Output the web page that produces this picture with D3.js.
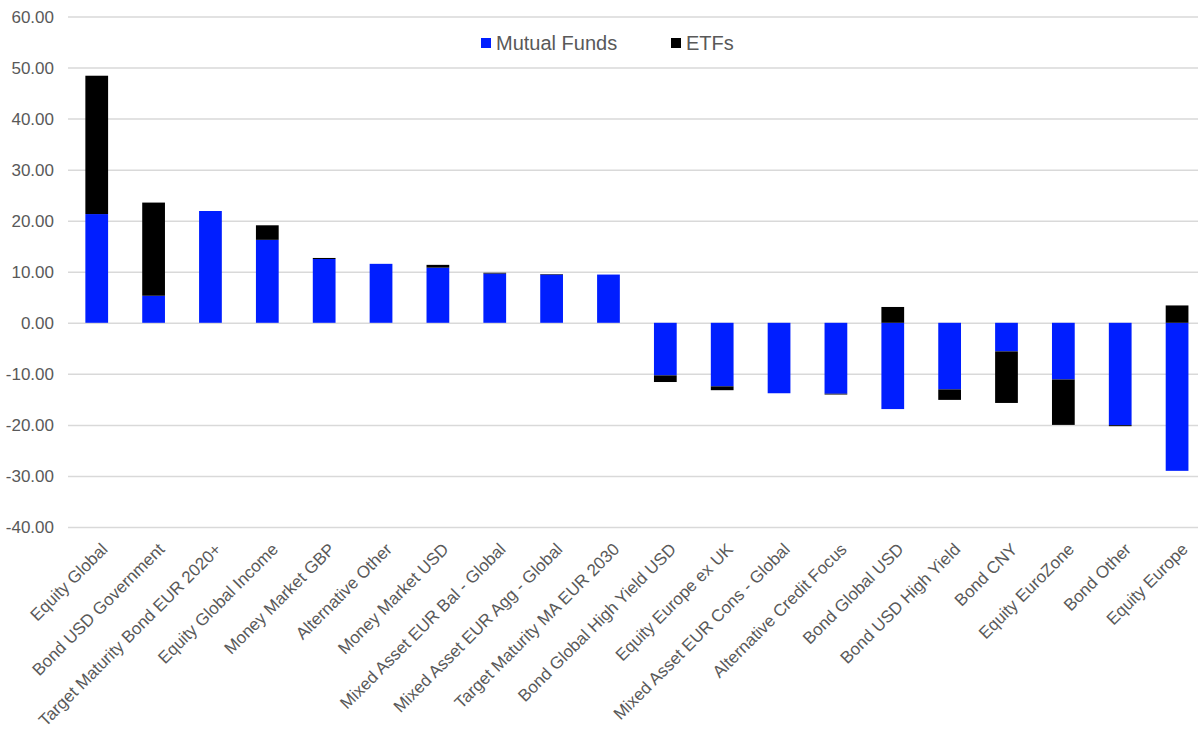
<!DOCTYPE html>
<html>
<head>
<meta charset="utf-8">
<script src="https://cdn.jsdelivr.net/npm/d3@7/dist/d3.min.js"></script>
<style>
  html, body { margin: 0; padding: 0; background: #fff; }
  svg { display: block; font-family: "Liberation Sans", Arial, sans-serif; }
</style>
</head>
<body>
<svg id="chart" width="1198" height="743"></svg>
<script>
const categories = [
  "Equity Global", "Bond USD Government", "Target Maturity Bond EUR 2020+",
  "Equity Global Income", "Money Market GBP", "Alternative Other",
  "Money Market USD", "Mixed Asset EUR Bal - Global", "Mixed Asset EUR Agg - Global",
  "Target Maturity MA EUR 2030", "Bond Global High Yield USD", "Equity Europe ex UK",
  "Mixed Asset EUR Cons - Global", "Alternative Credit Focus", "Bond Global USD",
  "Bond USD High Yield", "Bond CNY", "Equity EuroZone", "Bond Other", "Equity Europe"
];
const mutualFunds = [21.3, 5.3, 21.9, 16.25, 12.5, 11.55, 10.8, 9.65, 9.45, 9.45,
  -10.3, -12.45, -13.8, -13.9, -16.9, -13.05, -5.6, -11.1, -20.05, -29.0];
const etfs = [27.1, 18.25, 0, 2.85, 0.2, 0, 0.55, 0.15, 0.1, 0,
  -1.3, -0.75, 0, -0.15, 3.1, -2.05, -10.1, -8.9, -0.2, 3.4];
const seriesNames = ["Mutual Funds", "ETFs"];
const seriesColors = ["#001EFF", "#000000"];
const yTicks = [60, 50, 40, 30, 20, 10, 0, -10, -20, -30, -40];

const svg = d3.select("#chart");
const W = 1198;

const x = d3.scaleBand().domain(categories).range([68.3, 1205.5]).paddingInner(0.6).paddingOuter(0.3);
const y = d3.scaleLinear().domain([-40, 60]).range([527, 16.5]);

const rows = categories.map((c, i) => ({ cat: c, "Mutual Funds": mutualFunds[i], "ETFs": etfs[i] }));
const stacked = d3.stack().keys(seriesNames).offset(d3.stackOffsetDiverging)(rows);

const fmt = d3.format(".2f");
// gridlines + y tick labels
const yAxis = d3.axisLeft(y).tickValues(yTicks)
  .tickFormat(d => fmt(d).replace("\u2212", "-")).tickSize(0).tickPadding(0);
const gy = svg.append("g").attr("transform", "translate(68,0)").call(yAxis);
gy.select(".domain").remove();
gy.selectAll(".tick line").remove();
gy.selectAll(".tick").append("line")
  .attr("x1", 0).attr("x2", W - 68)
  .attr("stroke", "#d9d9d9").attr("stroke-width", 1.5);
gy.selectAll(".tick text")
  .attr("x", -14).attr("dy", "0.35em")
  .attr("fill", "#595959").style("font-size", "17px")
  .style("font-family", '"Liberation Sans", Arial, sans-serif');

// bars
svg.append("g").selectAll("g").data(stacked).join("g")
  .attr("fill", (d, i) => seriesColors[i])
  .selectAll("rect").data(d => d).join("rect")
  .attr("x", d => x(d.data.cat))
  .attr("width", x.bandwidth())
  .attr("y", d => y(Math.max(d[0], d[1])))
  .attr("height", d => Math.abs(y(d[0]) - y(d[1])));

// x axis labels
const xAxis = d3.axisBottom(x).tickSize(0).tickPadding(0);
const gx = svg.append("g").attr("transform", "translate(0,542)").call(xAxis);
gx.select(".domain").remove();
gx.selectAll(".tick text")
  .attr("fill", "#595959").style("font-size", "17px")
  .style("font-family", '"Liberation Sans", Arial, sans-serif')
  .attr("text-anchor", "end")
  .attr("x", 0).attr("y", 0).attr("dy", "0.7em")
  .attr("transform", "translate(3.5,0) rotate(-45)");

// legend
const legendX = [481, 671];
const lg = svg.append("g").selectAll("g").data(seriesNames).join("g")
  .attr("transform", (d, i) => `translate(${legendX[i]},38)`);
lg.append("rect").attr("width", 10).attr("height", 10).attr("fill", (d, i) => seriesColors[i]);
lg.append("text").attr("x", 15).attr("y", 5).attr("dy", "0.35em")
  .attr("fill", "#595959").style("font-size", "20px").text(d => d);
</script>
</body>
</html>
